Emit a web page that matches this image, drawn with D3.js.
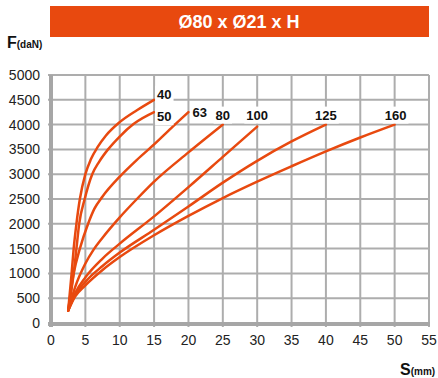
<!DOCTYPE html>
<html>
<head>
<meta charset="utf-8">
<script src="https://cdn.jsdelivr.net/npm/d3@7"></script>
<style>
  body { margin: 0; background: #fff; }
  svg { display: block; }
  text { font-family: "Liberation Sans Narrow", "Arial Narrow", "Liberation Sans", Arial, sans-serif; }
</style>
</head>
<body>
<svg id="chart" width="438" height="378"></svg>
<script>
// series names (curve labels)
const seriesNames = ["40", "50", "63", "80", "100", "125", "160"];

// [stroke S (mm), force F (daN)]
const curve40 = [[2.5,250],[3.0,1000],[3.3,1500],[3.7,2000],[4.2,2500],[5,3000],[5.8,3300],[6.8,3550],[8,3780],[10,4050],[12.5,4290],[15,4500]];
const curve50 = [[2.5,250],[3.3,1000],[3.7,1500],[4.1,2000],[4.9,2500],[6,3000],[7,3250],[8.3,3500],[10,3760],[12,4010],[15,4250]];
const curve63 = [[2.5,250],[3.3,1000],[4.2,1500],[5.4,2000],[6.3,2300],[7.5,2550],[10,2950],[12.5,3290],[15,3600],[17.5,3930],[20,4250]];
const curve80 = [[2.5,250],[3.5,720],[5,1200],[6.2,1480],[7.5,1720],[10,2130],[12.5,2500],[15,2850],[20,3440],[25,4000]];
const curve100 = [[2.5,250],[3.5,600],[5,920],[7.5,1300],[10,1600],[15,2150],[20,2740],[25,3350],[30,3960]];
const curve125 = [[2.5,250],[3.5,560],[5,830],[7.5,1150],[10,1420],[15,1880],[20,2350],[25,2830],[30,3270],[35,3660],[40,4000]];
const curve160 = [[2.5,250],[3.5,530],[5,760],[7.5,1070],[10,1330],[15,1770],[20,2160],[25,2520],[30,2850],[35,3160],[40,3460],[45,3740],[50,4000]];

// axis ticks
const xTicks = [0, 5, 10, 15, 20, 25, 30, 35, 40, 45, 50, 55];
const yTicks = [0, 500, 1000, 1500, 2000, 2500, 3000, 3500, 4000, 4500, 5000];

const titleText = "Ø80 x Ø21 x H";

let svg, xScale, yScale, plotG;
const orange = "#e8490f";
const gridColor = "#adadad";

// where each curve label sits relative to the curve end
const labelPlace = [
  { dx: 3, dy: -1, anchor: "start" },
  { dx: 3, dy: 9, anchor: "start" },
  { dx: 4, dy: 5, anchor: "start" },
  { dx: 0, dy: -5, anchor: "middle" },
  { dx: 0, dy: -7, anchor: "middle" },
  { dx: 0, dy: -5, anchor: "middle" },
  { dx: 1, dy: -5, anchor: "middle" }
];

function chartMain() {
  svg = d3.select("#chart");
  const allCurves = [curve40, curve50, curve63, curve80, curve100, curve125, curve160];

  xScale = d3.scaleLinear().domain([0, 55]).range([51, 429]);
  yScale = d3.scaleLinear().domain([0, 5000]).range([323, 75]);

  // title bar
  svg.append("rect")
    .attr("x", 50).attr("y", 6)
    .attr("width", 379).attr("height", 31)
    .attr("fill", orange);
  svg.append("text")
    .attr("x", 239).attr("y", 28)
    .attr("text-anchor", "middle")
    .attr("fill", "#fff")
    .style("font-family", "'Liberation Sans', Arial, sans-serif")
    .style("font-weight", "bold")
    .style("font-size", "18px")
    .text(titleText);

  // grid
  const gridG = svg.append("g");
  gridG.selectAll(".vgrid")
    .data(xTicks.filter(d => d > 0))
    .enter().append("line")
    .attr("x1", d => xScale(d)).attr("x2", d => xScale(d))
    .attr("y1", yScale(5000)).attr("y2", yScale(0) + 4)
    .attr("stroke", gridColor).attr("stroke-width", 2);
  gridG.selectAll(".hgrid")
    .data(yTicks.filter(d => d > 0))
    .enter().append("line")
    .attr("x1", xScale(0) - 3).attr("x2", xScale(55))
    .attr("y1", d => yScale(d)).attr("y2", d => yScale(d))
    .attr("stroke", gridColor).attr("stroke-width", 2);

  // thick axis lines
  svg.append("line")
    .attr("x1", xScale(0)).attr("x2", xScale(0))
    .attr("y1", yScale(5000)).attr("y2", yScale(0) + 4)
    .attr("stroke", "#a6a6a6").attr("stroke-width", 4);
  svg.append("line")
    .attr("x1", xScale(0) - 3).attr("x2", xScale(55) + 1)
    .attr("y1", yScale(0) + 1).attr("y2", yScale(0) + 1)
    .attr("stroke", "#a6a6a6").attr("stroke-width", 4);

  // tick labels
  svg.append("g").selectAll("text")
    .data(xTicks)
    .enter().append("text")
    .attr("x", d => xScale(d))
    .attr("y", 345)
    .attr("text-anchor", "middle")
    .style("font-size", "14px")
    .attr("fill", "#222")
    .text(d => d);
  svg.append("g").selectAll("text")
    .data(yTicks)
    .enter().append("text")
    .attr("x", 40)
    .attr("y", d => yScale(d) + 5)
    .attr("text-anchor", "end")
    .style("font-size", "14px")
    .attr("fill", "#222")
    .text(d => d);

  // curves
  const line = d3.line()
    .x(d => xScale(d[0]))
    .y(d => yScale(d[1]))
    .curve(d3.curveMonotoneX);

  plotG = svg.append("g");
  plotG.selectAll("path")
    .data(allCurves)
    .enter().append("path")
    .attr("d", line)
    .attr("fill", "none")
    .attr("stroke", orange)
    .attr("stroke-width", 2.5)
    .attr("stroke-linejoin", "round")
    .attr("stroke-linecap", "round");

  // curve labels with white boxes
  allCurves.forEach((c, i) => {
    const end = c[c.length - 1];
    const p = labelPlace[i];
    const t = svg.append("text")
      .attr("x", xScale(end[0]) + p.dx)
      .attr("y", yScale(end[1]) + p.dy)
      .attr("text-anchor", p.anchor)
      .style("font-size", "13px")
      .style("font-weight", "bold")
      .attr("fill", "#111")
      .text(seriesNames[i]);
    const bb = t.node().getBBox();
    svg.insert("rect", function() { return t.node(); })
      .attr("x", bb.x - 2).attr("y", bb.y - 1)
      .attr("width", bb.width + 4).attr("height", bb.height + 2)
      .attr("fill", "#fff");
  });

  // axis titles
  const fT = svg.append("text").attr("x", 7).attr("y", 48)
    .style("font-weight", "bold").attr("fill", "#111");
  fT.append("tspan").style("font-size", "16px").text("F");
  fT.append("tspan").style("font-size", "10px").text("(daN)");

  const sT = svg.append("text").attr("x", 400).attr("y", 375)
    .style("font-weight", "bold").attr("fill", "#111");
  sT.append("tspan").style("font-size", "16px").text("S");
  sT.append("tspan").style("font-size", "10px").text("(mm)");
}

chartMain();
</script>
</body>
</html>
